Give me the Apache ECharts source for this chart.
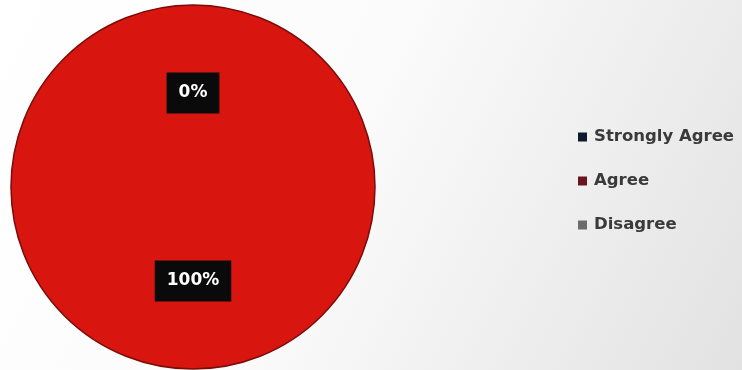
<!DOCTYPE html>
<html><head><meta charset="utf-8">
<script src="https://cdn.jsdelivr.net/npm/echarts@6/dist/echarts.min.js"></script>
<style>html,body{margin:0;padding:0;background:#fff}#c{width:742px;height:370px}</style>
</head><body><div id="c"></div>
<script>
const categories = ['Strongly Agree', 'Agree', 'Disagree'];
const values = [0, 100, 0];
const labels = ['0%', '100%', '0%'];
const sliceColors = ['#0c1a2c', '#d8150f', '#6c6c6c'];
const legendColors = ['#0c1a2c', '#6a1420', '#6c6c6c'];

const chart = echarts.init(document.getElementById('c'));
chart.setOption({
  backgroundColor: {
    type: 'linear', x: 0, y: 0, x2: 1, y2: 1,
    colorStops: [{offset: 0, color: '#ffffff'}, {offset: 0.45, color: '#fbfbfb'}, {offset: 1, color: '#e2e2e2'}]
  },
  animation: false,
  legend: {
    orient: 'vertical',
    left: 573,
    top: 122,
    itemWidth: 9,
    itemHeight: 9,
    itemGap: 24,
    icon: 'rect',
    itemStyle: {borderWidth: 0},
    textStyle: {fontFamily: 'DejaVu Sans', fontWeight: 'bold', fontSize: 16.5, color: '#3a3a3a', lineHeight: 20, padding: [0, 0, 0, 2]},
    data: categories.map((c, i) => ({name: c, itemStyle: {color: legendColors[i], borderWidth: 0}}))
  },
  series: [{
    type: 'pie',
    center: [193, 187],
    radius: 182,
    startAngle: 90,
    clockwise: true,
    avoidLabelOverlap: false,
    minShowLabelAngle: 0,
    label: {
      show: true,
      position: 'inside',
      formatter: p => labels[p.dataIndex],
      color: '#ffffff',
      fontFamily: 'DejaVu Sans',
      fontWeight: 'bold',
      fontSize: 17,
      backgroundColor: '#0a0a0a',
      padding: [14, 12, 10, 12]
    },
    labelLine: {show: false},
    data: categories.map((c, i) => ({
      name: c, value: values[i],
      itemStyle: values[i] > 0
        ? {color: sliceColors[i], borderColor: '#7a0c0a', borderWidth: 1.5}
        : {color: sliceColors[i], borderWidth: 0}
    }))
  }]
});
</script></body></html>
